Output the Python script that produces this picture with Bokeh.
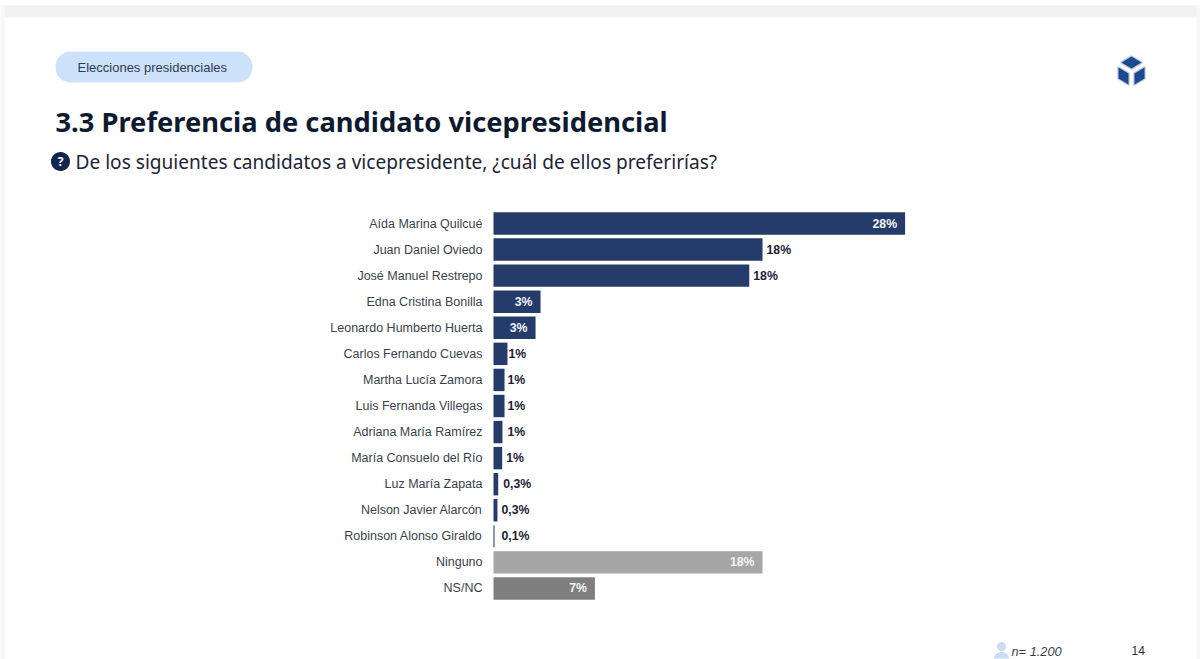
import numpy as np
from bokeh.core.properties import value
from bokeh.embed import file_html
from bokeh.resources import INLINE
from bokeh.plotting import figure
from bokeh.models import ColumnDataSource, Label, Range1d, BoxAnnotation, PolyAnnotation, LabelSet

candidates = ["Aída Marina Quilcué", "Juan Daniel Oviedo", "José Manuel Restrepo", "Edna Cristina Bonilla",
              "Leonardo Humberto Huerta", "Carlos Fernando Cuevas", "Martha Lucía Zamora", "Luis Fernanda Villegas",
              "Adriana María Ramírez", "María Consuelo del Río", "Luz María Zapata", "Nelson Javier Alarcón",
              "Robinson Alonso Giraldo", "Ninguno", "NS/NC"]
values = [28.0, 18.3, 17.4, 3.2, 2.86, 0.95, 0.75, 0.75, 0.61, 0.59, 0.32, 0.27, 0.07, 18.3, 6.9]
value_labels = ["28%", "18%", "18%", "3%", "3%", "1%", "1%", "1%", "1%", "1%", "0,3%", "0,3%", "0,1%", "18%", "7%"]
label_inside = [True, False, False, True, True, False, False, False, False, False, False, False, False, True, True]
NAVY = "#253B69"
bar_colors = [NAVY] * 13 + ["#A6A6A6", "#7F7F7F"]
# gap in pixels between bar end and an outside label, rows in order of the outside labels
outside_gaps = [4, 4, 1, 3, 3, 5, 4, 5, 4, 7]

W, H = 1200, 659
X0 = 493            # image x of 0 %
PX_PER_PCT = 14.7
ROW0 = 223          # image y of first row
ROW_H = 26.07

p = figure(width=W, height=H, output_backend="svg", toolbar_location=None,
           x_range=Range1d(-X0 / PX_PER_PCT, (W - X0) / PX_PER_PCT),
           y_range=Range1d((H - ROW0) / ROW_H, -ROW0 / ROW_H),
           min_border=0, outline_line_color=None, background_fill_color="white", border_fill_color="white")
p.axis.visible = False
p.grid.visible = False

rows = list(range(len(candidates)))
zeros = [0] * len(candidates)
src = ColumnDataSource(dict(y=rows, v=values, c=bar_colors, z=zeros, n=candidates))
p.hbar(y="y", right="v", left=0, height=0.86, fill_color="c", line_color=None, source=src)
p.add_layout(LabelSet(x="z", y="y", text="n", source=src, x_offset=-11, text_align="right",
                      text_baseline="middle", text_color="#3A3F4C", text_font=value("Liberation Sans"),
                      text_font_size="12.5px"))

ins = [i for i, f in enumerate(label_inside) if f]
out = [i for i, f in enumerate(label_inside) if not f]
s_in = ColumnDataSource(dict(y=[rows[i] for i in ins], v=[values[i] for i in ins],
                             t=[value_labels[i] for i in ins]))
s_out = ColumnDataSource(dict(y=[rows[i] for i in out], v=[values[i] for i in out],
                              t=[value_labels[i] for i in out], g=outside_gaps))
p.add_layout(LabelSet(x="v", y="y", text="t", source=s_in, x_offset=-8, text_align="right",
                      text_baseline="middle", text_color="#F2F4F7", text_font=value("Liberation Sans"),
                      text_font_style="bold", text_font_size="12.3px"))
p.add_layout(LabelSet(x="v", y="y", text="t", source=s_out, x_offset="g", text_align="left",
                      text_baseline="middle", text_color="#1C2233", text_font=value("Liberation Sans"),
                      text_font_style="bold", text_font_size="12.3px"))


# ---- page furniture, given in image pixels (frame == whole image)
def sy(y):
    return H - y


def text(x, y, s, size, color, font="Noto Sans", style="normal", align="left"):
    p.add_layout(Label(x=x, y=sy(y), x_units="screen", y_units="screen", text=s, text_font=font,
                       text_font_size=size, text_color=color, text_font_style=style, text_align=align,
                       text_baseline="middle"))


def box(l, r, t, b, color, radius=0):
    p.add_layout(BoxAnnotation(left=l, right=r, top=sy(t), bottom=sy(b), left_units="screen",
                               right_units="screen", top_units="screen", bottom_units="screen",
                               fill_color=color, fill_alpha=1, line_color=None, border_radius=radius,
                               level="underlay"))


def poly(xs, ys, color, round_edge=False):
    p.add_layout(PolyAnnotation(xs=list(xs), ys=[sy(y) for y in ys], xs_units="screen",
                                ys_units="screen", fill_color=color, fill_alpha=1,
                                line_color=color if round_edge else None, line_width=2.5,
                                line_join="round"))


def ring(cx, cy, rx, ry=None, a0=0, a1=2 * np.pi, n=48):
    ry = rx if ry is None else ry
    t = np.linspace(a0, a1, n)
    return list(cx + rx * np.cos(t)), list(cy + ry * np.sin(t))


box(0, 1200, 5, 17, "#F2F2F2")
box(0, 4, 5, 659, "#F7F7F7")
box(1196, 1200, 5, 659, "#F7F7F7")
box(55, 252, 51, 82, "#CDE2FA", 15)
text(77, 67, "Elecciones presidenciales", "13px", "#2F3B52", font="Liberation Sans")
text(55, 121, "3.3 Preferencia de candidato vicepresidencial", "27.3px", "#0E1A30", style="bold")
qx, qy = ring(60, 161, 9.5)
poly(qx, qy, "#14264F")
text(60, 161, "?", "12px", "white", style="bold", align="center")
text(75, 161, "De los siguientes candidatos a vicepresidente, ¿cuál de ellos preferirías?", "19.1px", "#1B2437")

# cube logo
CUBE = "#1B4A8F"
poly([1131, 1141, 1131, 1121], [56, 62, 68, 62], CUBE, True)
poly([1118, 1128, 1128, 1118], [67, 73, 84, 78], CUBE, True)
poly([1144, 1134, 1134, 1144], [67, 73, 84, 78], CUBE, True)

# respondent icon and footer
hx, hy = ring(1001, 646, 4.5)
poly(hx, hy, "#C9DDF2")
bx, by = ring(1001, 658, 7.5, 6.5, np.pi, 2 * np.pi)
poly(bx, by, "#C9DDF2")
text(1011, 651, "n= 1.200", "12.8px", "#3A3F4C", font="Liberation Sans", style="italic")
text(1131, 649.5, "14", "12px", "#2A2F3C", font="Liberation Sans")

open("out.html", "w").write(file_html(p, INLINE))
